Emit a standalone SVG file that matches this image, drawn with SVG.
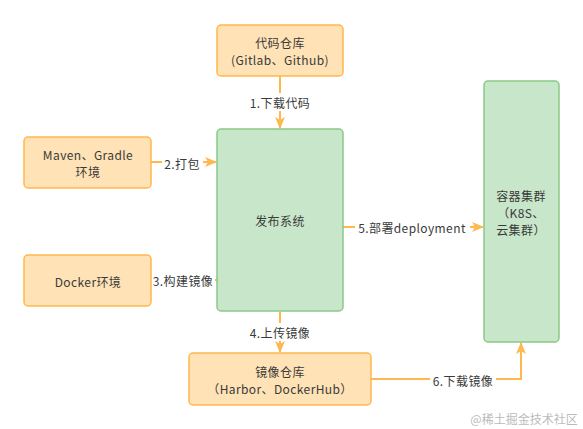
<svg xmlns="http://www.w3.org/2000/svg" width="583" height="429" viewBox="0 0 583 429">
<style>
.o{fill:#FFE2B5;stroke:#FFB84D;stroke-width:1.5}
.g{fill:#C8E6C9;stroke:#89C987;stroke-width:1.5}
.t{font-family:"Noto Sans CJK SC","Liberation Sans",sans-serif;font-size:12px;letter-spacing:0.4px;fill:#3a3a3a;text-anchor:middle;dominant-baseline:central}
.e{fill:none;stroke:#FFB84D;stroke-width:2}
.lb{fill:#fff}
</style>
<defs>
<marker id="ah" viewBox="0 0 12 10" refX="11" refY="5" markerWidth="12" markerHeight="10" orient="auto" markerUnits="userSpaceOnUse">
<path d="M0,0 L12,5 L0,10 L3,5 Z" fill="#FFB84D"/>
</marker>
</defs>
<rect width="583" height="429" fill="#fff"/>
<g id="edges">
<path class="e" d="M280,76 V128" marker-end="url(#ah)"/>
<rect class="lb" x="247" y="93" width="66" height="18"/>
<text class="t" x="280" y="102">1.下载代码</text>
<path class="e" d="M151,162 H216" marker-end="url(#ah)"/>
<rect class="lb" x="162" y="154" width="41" height="18"/>
<text class="t" x="182" y="163">2.打包</text>
<path class="e" d="M217,280 H151"/>
<rect class="lb" x="151" y="271" width="64" height="18"/>
<text class="t" x="183" y="280">3.构建镜像</text>
<path class="e" d="M280,312 V352" marker-end="url(#ah)"/>
<rect class="lb" x="246" y="323" width="68" height="18"/>
<text class="t" x="280" y="332">4.上传镜像</text>
<path class="e" d="M343,227 H483" marker-end="url(#ah)"/>
<rect class="lb" x="355" y="218" width="115" height="18"/>
<text class="t" x="412" y="227">5.部署deployment</text>
<path class="e" d="M371,379 H521 V343" marker-end="url(#ah)"/>
<rect class="lb" x="430" y="371" width="66" height="18"/>
<text class="t" x="463" y="380">6.下载镜像</text>
</g>
<g id="code-repo">
<rect class="o" x="217" y="25" width="126" height="51" rx="4"/>
<text class="t" x="280" y="42">代码仓库</text>
<text class="t" x="280" y="59">(Gitlab、Github)</text>
</g>
<g id="build-env">
<rect class="o" x="24" y="137" width="127" height="51" rx="4"/>
<text class="t" x="88" y="154">Maven、Gradle</text>
<text class="t" x="88" y="171">环境</text>
</g>
<g id="docker-env">
<rect class="o" x="24" y="255" width="127" height="51" rx="4"/>
<text class="t" x="88" y="281">Docker环境</text>
</g>
<g id="release">
<rect class="g" x="217" y="129" width="126" height="182" rx="4"/>
<text class="t" x="280" y="220">发布系统</text>
</g>
<g id="cluster">
<rect class="g" x="484" y="81" width="75" height="261" rx="4"/>
<text class="t" x="521" y="195">容器集群</text>
<text class="t" x="521" y="212">（K8S、</text>
<text class="t" x="521" y="229">云集群）</text>
</g>
<g id="image-repo">
<rect class="o" x="189" y="353" width="182" height="52" rx="4"/>
<text class="t" x="280" y="371">镜像仓库</text>
<text class="t" x="280" y="388">（Harbor、DockerHub）</text>
</g>
<text x="524" y="418" style="font-family:'Noto Sans CJK SC',sans-serif;font-size:12px;fill:#bbb;text-anchor:middle;dominant-baseline:central">@稀土掘金技术社区</text>
</svg>
